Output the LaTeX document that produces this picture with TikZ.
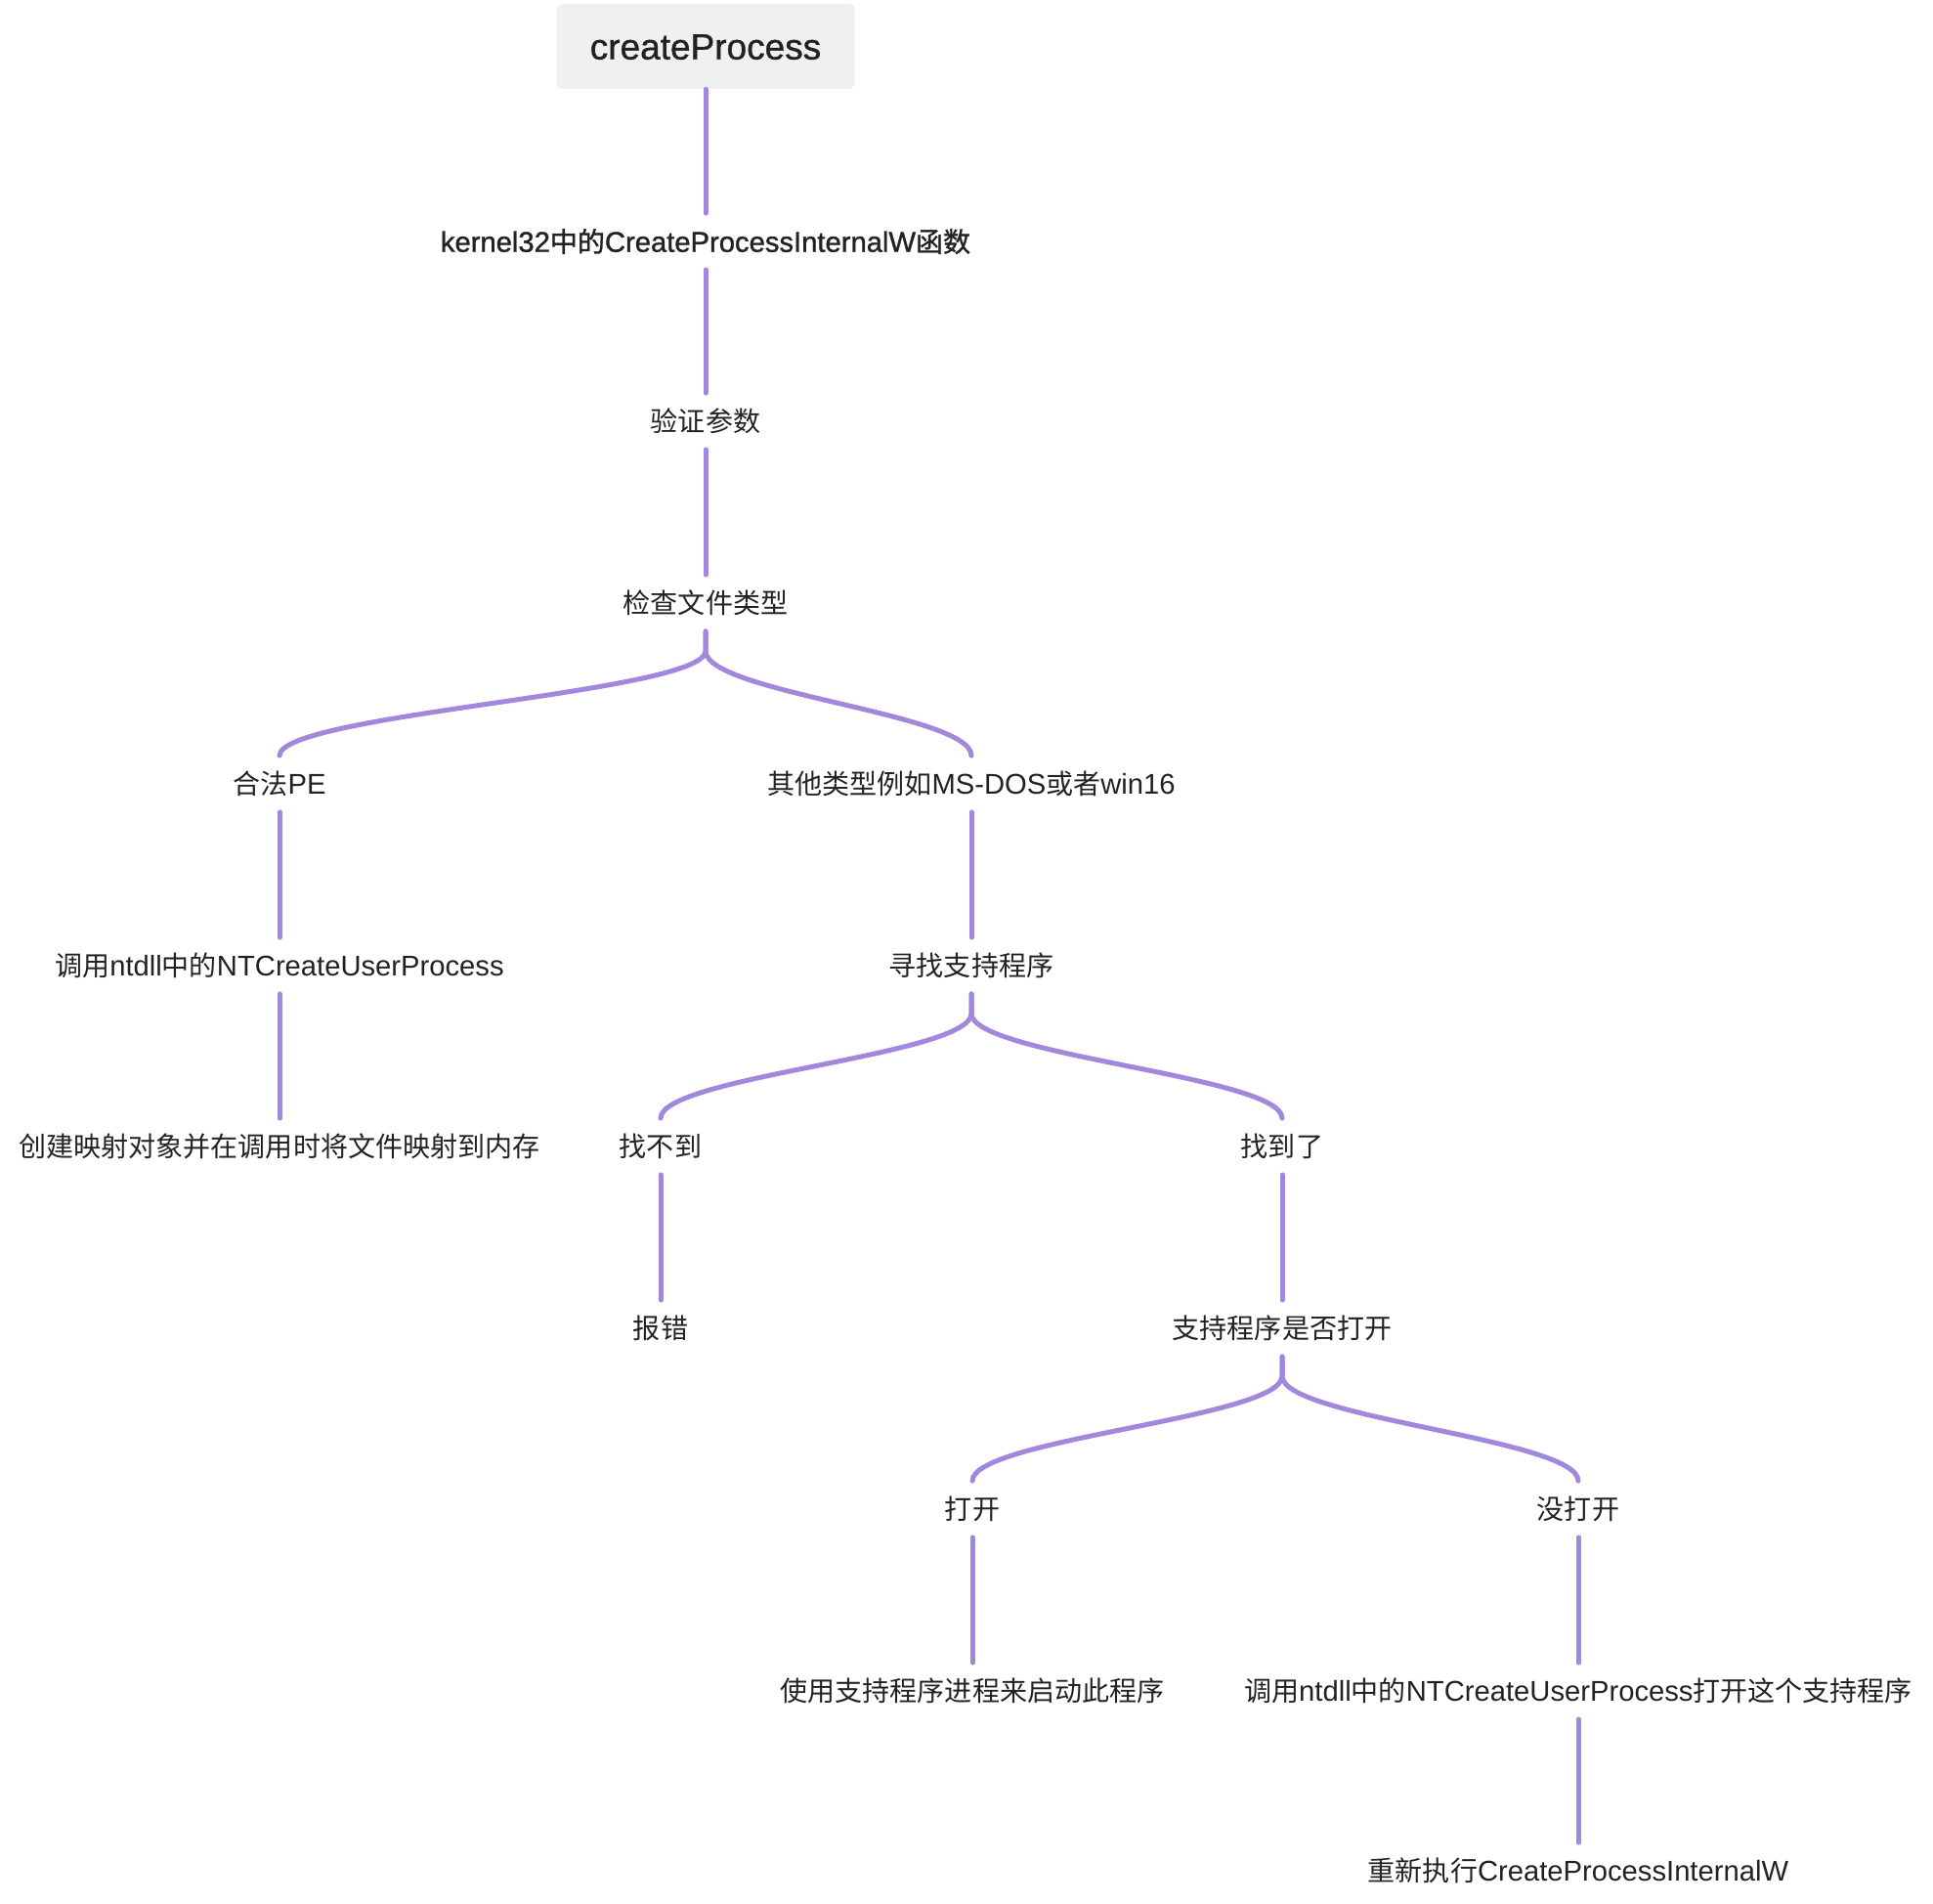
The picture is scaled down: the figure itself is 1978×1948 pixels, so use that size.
\documentclass[tikz,border=0pt]{standalone}
\usepackage{fontspec}
\setmainfont{Liberation Sans}
\newfontfamily\cjk[Scale=0.96]{Noto Sans CJK SC}
\newfontfamily\cjkb[Scale=0.96,FakeBold=1.2]{Noto Sans CJK SC}
\newfontfamily\latb[FakeBold=1.2]{Liberation Sans}
\newfontfamily\rootfont[FakeBold=1]{Liberation Sans}
\newcommand{\zh}[1]{{\cjk #1}}
\newcommand{\zhb}[1]{{\cjkb #1}}
\definecolor{linkpurple}{RGB}{161,136,221}
\definecolor{textgray}{RGB}{34,34,34}
\definecolor{rootfill}{RGB}{239,241,240}

\begin{document}
\begin{tikzpicture}[x=0.5pt, y=-0.5pt]
  \tikzset{
    lbl/.style={inner sep=0pt, minimum height=28.5pt, text=textgray,
      font=\fontsize{14.6pt}{17pt}\selectfont, text height=12.4pt, text depth=1.7pt},
    lblb/.style={lbl, font=\latb\fontsize{14.6pt}{17pt}\selectfont},
    rt/.style={fill=rootfill, rounded corners=3pt, minimum width=152.5pt,
      minimum height=43.5pt, inner sep=0pt, text=textgray,
      font=\rootfont\fontsize{18.5pt}{22pt}\selectfont, text height=13.2pt, text depth=0pt},
    lnk/.style={draw=linkpurple, line width=2.5pt, line cap=round}
  }
  \useasboundingbox (0,0) rectangle (1978,1948);

  % main column
  \node[rt]   (root)  at (722,47.5) {createProcess};
  \node[lblb] (k32)   at (722,247) {kernel32\zhb{中的}CreateProcessInternalW\zhb{函数}};
  \node[lbl]  (chk)   at (722,431) {\zh{验证参数}};
  \node[lbl]  (ftype) at (722,617) {\zh{检查文件类型}};

  % PE branch (left)
  \node[lbl] (pe)    at (286,802)  {\zh{合法}PE};
  \node[lbl] (ntc)   at (286,988)  {\zh{调用}ntdll\zh{中的}NTCreateUserProcess};
  \node[lbl] (mapf)  at (286,1173) {\zh{创建映射对象并在调用时将文件映射到内存}};

  % other types branch (right)
  \node[lbl] (other)  at (994,802)  {\zh{其他类型例如}MS-DOS\zh{或者}win16};
  \node[lbl] (seek)   at (994,988)  {\zh{寻找支持程序}};
  \node[lbl] (nofind) at (676,1173) {\zh{找不到}};
  \node[lbl] (found)  at (1312,1173) {\zh{找到了}};
  \node[lbl] (err)    at (676,1359) {\zh{报错}};
  \node[lbl] (isopen) at (1312,1359) {\zh{支持程序是否打开}};
  \node[lbl] (opened) at (995,1544) {\zh{打开}};
  \node[lbl] (notopen) at (1615,1544) {\zh{没打开}};
  \node[lbl] (usesup) at (995,1730) {\zh{使用支持程序进程来启动此程序}};
  \node[lbl] (ntc2)   at (1615,1730) {\zh{调用}ntdll\zh{中的}NTCreateUserProcess\zh{打开这个支持程序}};
  \node[lbl] (rerun)  at (1615,1914) {\zh{重新执行}CreateProcessInternalW};

  % straight links
  \foreach \a/\b in {root/k32, k32/chk, chk/ftype, pe/ntc, ntc/mapf, other/seek,
                     nofind/err, found/isopen, opened/usesup, notopen/ntc2, ntc2/rerun}
    \draw[lnk] (\a.south) -- (\b.north);

  % forks
  \foreach \a/\b in {ftype/pe, ftype/other, seek/nofind, seek/found, isopen/opened, isopen/notopen}
    \draw[lnk] (\a.south) -- ++(0,20) .. controls +(0,43) and +(0,-43) .. (\b.north);
\end{tikzpicture}
\end{document}
